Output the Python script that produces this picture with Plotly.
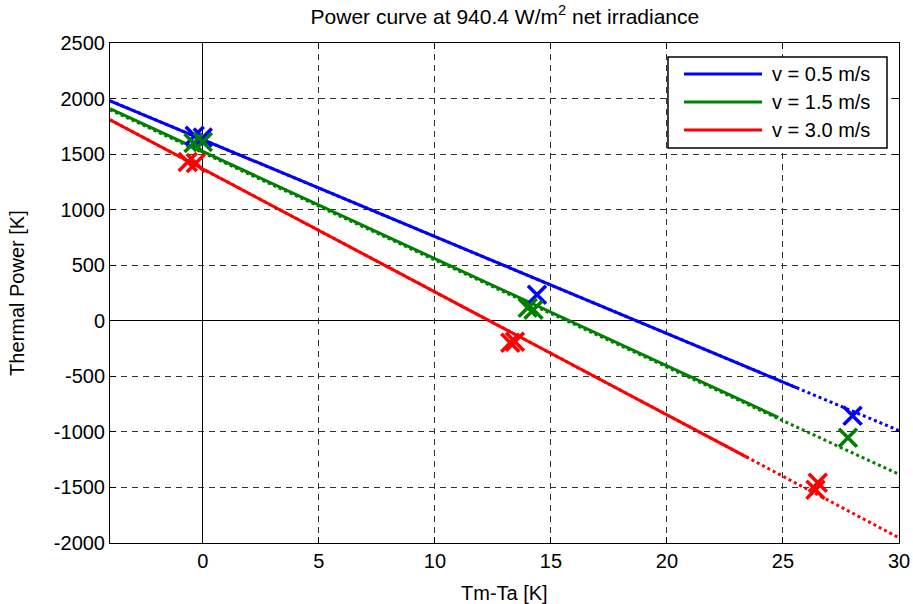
import plotly.graph_objects as go

# ---- data ----
series_names = ["v = 0.5 m/s", "v = 1.5 m/s", "v = 3.0 m/s"]
colors = ["#0000ff", "#008000", "#ff0000"]

# solid fitted segments (x, power)
solid_x = [[-4, 25.6], [-4, 24.8], [-4, 23.5]]
solid_y = [[1980, -604], [1910, -869], [1809, -1234]]

# dotted extrapolation (whole range, drawn underneath)
dot_x = [[-4, 30], [-4, 30], [-4, 30]]
dot_y = [[1980, -988], [1898, -1382], [1809, -1953]]

# measured points (x markers)
meas_x = [[-0.35, 0.0, 14.4, 28.0],
          [-0.4, 0.0, 14.0, 14.25, 27.8],
          [-0.65, -0.3, 13.25, 13.45, 26.5, 26.4]]
meas_y = [[1665, 1650, 234, -855],
          [1600, 1610, 117, 99, -1053],
          [1430, 1420, -198, -189, -1458, -1521]]

x_ticks = [0, 5, 10, 15, 20, 25, 30]
y_ticks = [-2000, -1500, -1000, -500, 0, 500, 1000, 1500, 2000, 2500]
y_tick_labels = ["-2000", "-1500", "-1000", "-500", "0", "500", "1000",
                 "1500", "2000", "2500"]

font = "Liberation Sans, Arial, Helvetica, sans-serif"
FS = 20

fig = go.Figure()
for i in range(3):
    fig.add_trace(go.Scatter(x=dot_x[i], y=dot_y[i], mode="lines",
                             line=dict(color=colors[i], width=3, dash="dot"),
                             showlegend=False, hoverinfo="skip"))
for i in range(3):
    fig.add_trace(go.Scatter(x=solid_x[i], y=solid_y[i], mode="lines",
                             name=series_names[i], showlegend=False,
                             line=dict(color=colors[i], width=3)))
for i in range(3):
    fig.add_trace(go.Scatter(x=meas_x[i], y=meas_y[i], mode="markers",
                             marker=dict(symbol="x-thin", size=18,
                                         line=dict(color=colors[i], width=3.5)),
                             showlegend=False))

axis_common = dict(
    showline=True, linecolor="black", linewidth=1, mirror="ticks",
    ticks="inside", ticklen=6, tickcolor="black",
    showgrid=True, gridcolor="#333333", gridwidth=1, griddash="6px,5px",
    zeroline=True, zerolinecolor="black", zerolinewidth=1,
    tickfont=dict(family=font, size=FS, color="black"),
    automargin=False,
)

# manual MATLAB-style legend (box, line samples, labels) in paper coords
leg_box = dict(x0=0.7072, x1=0.9848, y0=0.79, y1=0.972)
leg_line_x = (0.7275, 0.8264)
leg_rows_y = [0.938, 0.882, 0.826]
leg_text_x = 0.8365

shapes = [dict(type="rect", xref="paper", yref="paper", layer="above",
               fillcolor="white", line=dict(color="black", width=1.5), **leg_box)]
annotations = []
for i in range(3):
    shapes.append(dict(type="line", xref="paper", yref="paper", layer="above",
                       x0=leg_line_x[0], x1=leg_line_x[1],
                       y0=leg_rows_y[i], y1=leg_rows_y[i],
                       line=dict(color=colors[i], width=3)))
    annotations.append(dict(xref="paper", yref="paper", x=leg_text_x,
                            y=leg_rows_y[i], xanchor="left", yanchor="middle",
                            text=series_names[i], showarrow=False,
                            font=dict(family=font, size=FS, color="black")))

# axis titles placed like MATLAB
annotations.append(dict(xref="paper", yref="paper", x=0.5, y=-0.1,
                        xanchor="center", yanchor="middle", showarrow=False,
                        text="Tm-Ta [K]",
                        font=dict(family=font, size=FS, color="black")))
annotations.append(dict(xref="paper", yref="paper", x=-0.118, y=0.5,
                        xanchor="center", yanchor="middle", showarrow=False,
                        textangle=-90, text="Thermal Power [K]",
                        font=dict(family=font, size=FS, color="black")))

fig.update_layout(
    width=913, height=604,
    margin=dict(l=110, r=14, t=43, b=61),
    paper_bgcolor="white", plot_bgcolor="white",
    font=dict(family=font, size=FS, color="black"),
    title=dict(text="Power curve at 940.4 W/m<sup>2</sup> net irradiance",
               x=0.553, xanchor="center", yref="container", y=0.972,
               yanchor="middle",
               font=dict(family=font, size=21, color="black")),
    xaxis=dict(range=[-4, 30], tickvals=x_ticks, **axis_common),
    yaxis=dict(range=[-2000, 2500], tickvals=y_ticks, ticktext=y_tick_labels,
               **axis_common),
    shapes=shapes,
    annotations=annotations,
    showlegend=False,
)

fig.write_html("out.html",
               config={"displayModeBar": False},
               post_script="document.body.style.margin='0';"
                           "document.body.style.padding='0';")
